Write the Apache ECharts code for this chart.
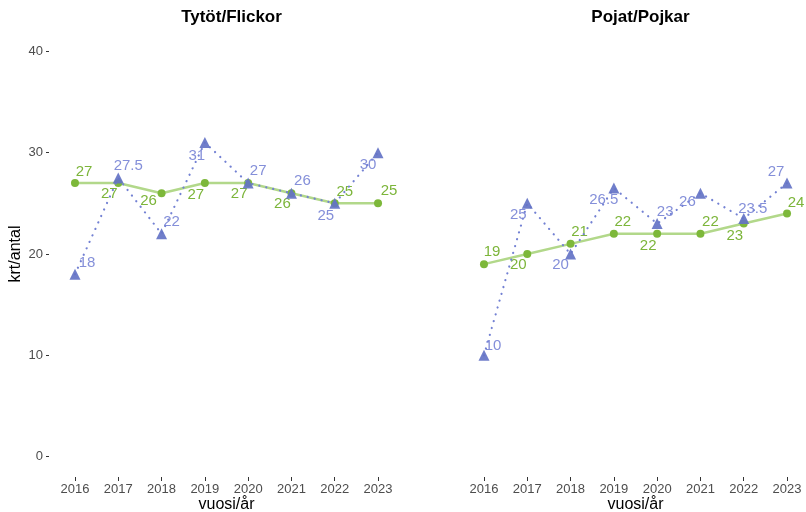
<!DOCTYPE html>
<html>
<head>
<meta charset="utf-8">
<script src="https://cdn.jsdelivr.net/npm/echarts@6/dist/echarts.min.js"></script>
<style>html,body{margin:0;padding:0;background:#fff}#c{width:806px;height:512px}</style>
</head>
<body>
<div id="c"></div>
<script>
const years = [2016, 2017, 2018, 2019, 2020, 2021, 2022, 2023];
const yTicks = [0, 10, 20, 30, 40];
const panelTitles = ['Tytöt/Flickor', 'Pojat/Pojkar'];
const xTitle = 'vuosi/år';
const yTitle = 'krt/antal';
const girlsGreen = [27, 27, 26, 27, 27, 26, 25, 25];
const girlsBlue = [18, 27.5, 22, 31, 27, 26, 25, 30];
const boysGreen = [19, 20, 21, 22, 22, 22, 23, 24];
const boysBlue = [10, 25, 20, 26.5, 23, 26, 23.5, 27];

// label placement (styling only)
const offGirlsGreen = [[9,-11],[-9,11],[-13,8],[-9,12],[-9,11],[-9,11],[10,-11],[11,-12]];
const offGirlsBlue = [[12,-11],[10,-12],[10,-12],[-8,13],[10,-12],[11,-12],[-9,13],[-10,12]];
const offBoysGreen = [[8,-12],[-9,11],[9,-12],[9,-12],[-9,12],[10,-12],[-9,12],[9,-11]];
const offBoysBlue = [[9,-10],[-9,12],[-10,11],[-10,12],[8,-12],[-13,9],[9,-10],[-11,-11]];

const GREEN_LINE = '#b2d88a', GREEN_PT = '#7db83a', GREEN_TXT = '#7cb53a';
const BLUE_LINE = '#7381d3', BLUE_PT = '#6473c6', BLUE_TXT = '#7a86d6';
const FONT = 'Liberation Sans, Arial, sans-serif';

function mk(vals, offs) {
  return vals.map((v, i) => ({
    value: [years[i], v],
    label: { offset: offs[i] }
  }));
}

const chart = echarts.init(document.getElementById('c'), null, { renderer: 'canvas' });

const grids = [
  { left: 49, top: 31, width: 355, height: 446, outerBoundsMode: 'none', containLabel: false },
  { left: 458, top: 31, width: 348, height: 446, outerBoundsMode: 'none', containLabel: false }
];
const xMins = [2015.4, 2015.4];
const xMaxs = [2023.6, 2015.4 + 348 / (355 / 8.2)];

const xAxes = grids.map((g, k) => ({
  type: 'value', gridIndex: k, min: xMins[k], max: xMaxs[k], position: 'bottom',
  splitLine: { show: false },
  axisLine: { show: false, onZero: false },
  axisTick: { show: true, inside: false, length: 4, customValues: years, lineStyle: { color: '#333', width: 1 } },
  axisLabel: { customValues: years, color: '#4d4d4d', fontSize: 13, fontFamily: FONT, margin: 6, formatter: v => String(v) }
}));

const yAxes = grids.map((g, k) => ({
  type: 'value', gridIndex: k, min: -2, max: 42, position: 'left',
  splitLine: { show: false },
  axisLine: { show: false, onZero: false },
  axisTick: { show: k === 0, inside: false, length: 3, customValues: yTicks, lineStyle: { color: '#333', width: 1 } },
  axisLabel: { show: k === 0, customValues: yTicks, color: '#4d4d4d', fontSize: 13, fontFamily: FONT, margin: 6 }
}));

function greenSeries(k, vals, offs) {
  return {
    type: 'line', xAxisIndex: k, yAxisIndex: k, data: mk(vals, offs),
    symbol: 'circle', symbolSize: 8, z: 2,
    lineStyle: { color: GREEN_LINE, width: 2.5 },
    itemStyle: { color: GREEN_PT },
    label: { show: true, position: 'inside', color: GREEN_TXT, fontSize: 15, fontFamily: FONT, align: 'center', verticalAlign: 'middle', formatter: p => String(p.value[1]) },
    emphasis: { disabled: true }, animation: false
  };
}
function blueSeries(k, vals, offs) {
  return {
    type: 'line', xAxisIndex: k, yAxisIndex: k, data: mk(vals, offs),
    symbol: 'triangle', symbolSize: 11, z: 3,
    lineStyle: { color: BLUE_LINE, width: 2.2, type: [0.1, 7], cap: 'round' },
    itemStyle: { color: BLUE_PT, opacity: 0.92 },
    label: { show: true, position: 'inside', color: BLUE_TXT, fontSize: 15, fontFamily: FONT, align: 'center', verticalAlign: 'middle', formatter: p => String(p.value[1]) },
    emphasis: { disabled: true }, animation: false
  };
}

const axisTitleStyle = { fill: '#000', fontSize: 16, fontFamily: FONT, align: 'center', verticalAlign: 'middle' };

chart.setOption({
  backgroundColor: '#fff',
  animation: false,
  title: panelTitles.map((t, k) => ({
    text: t, left: grids[k].left + 355 / 2, top: 4, textAlign: 'center',
    textStyle: { fontSize: 17, fontWeight: 'bold', color: '#000', fontFamily: FONT }
  })),
  graphic: [
    { type: 'text', x: grids[0].left + 355 / 2, y: 505, style: Object.assign({ text: xTitle }, axisTitleStyle) },
    { type: 'text', x: grids[1].left + 355 / 2, y: 505, style: Object.assign({ text: xTitle }, axisTitleStyle) },
    { type: 'text', x: 16, y: 254, rotation: Math.PI / 2, style: Object.assign({ text: yTitle }, axisTitleStyle) }
  ],
  grid: grids,
  xAxis: xAxes,
  yAxis: yAxes,
  series: [
    greenSeries(0, girlsGreen, offGirlsGreen),
    blueSeries(0, girlsBlue, offGirlsBlue),
    greenSeries(1, boysGreen, offBoysGreen),
    blueSeries(1, boysBlue, offBoysBlue)
  ]
});
</script>
</body>
</html>
